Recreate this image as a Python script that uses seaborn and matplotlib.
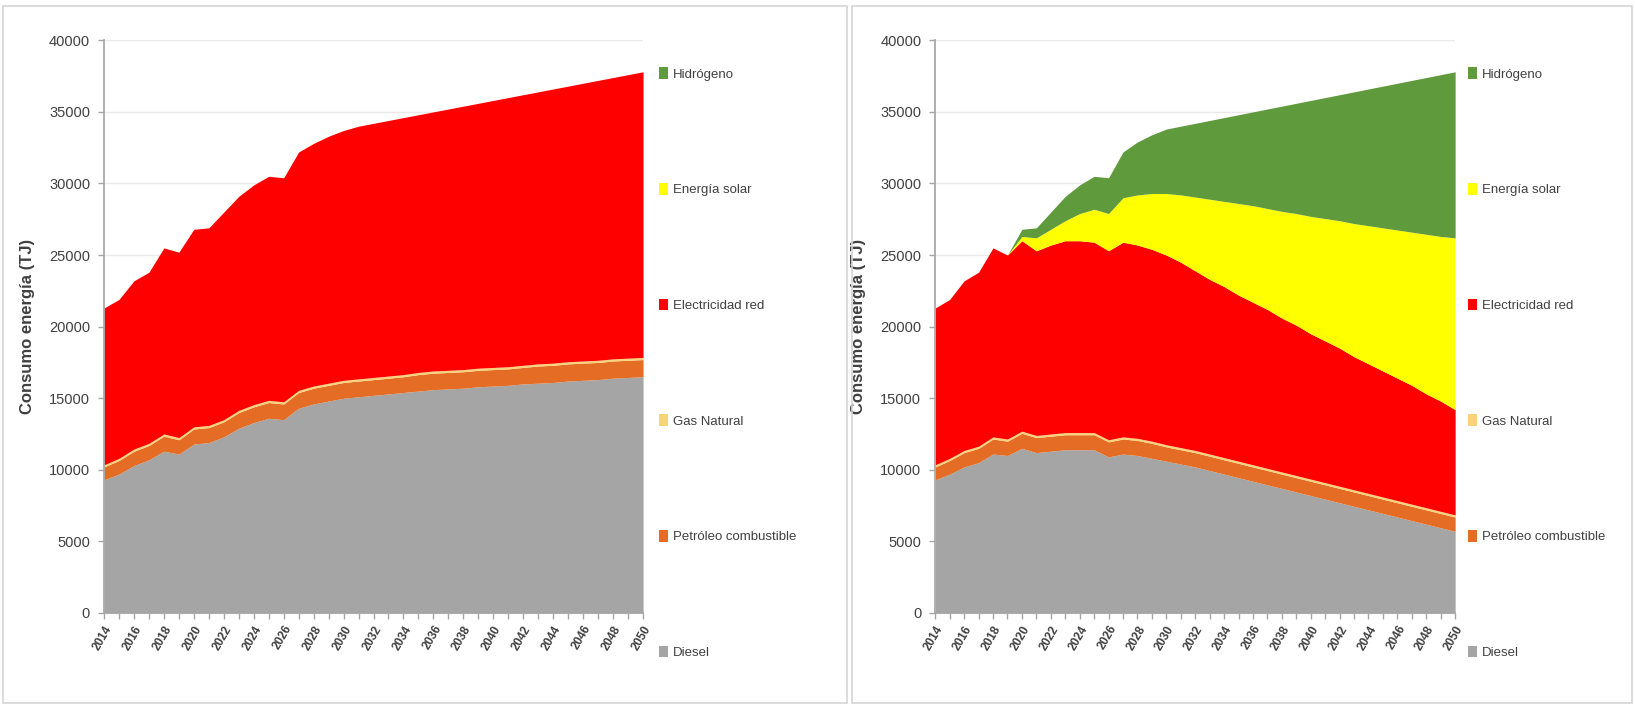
import matplotlib
matplotlib.use('Agg')
import matplotlib.pyplot as plt
import seaborn as sns
from matplotlib.patches import Patch, Rectangle

# Data (TJ)
years = list(range(2014, 2051))
tick_years = years[::2]

series_names = ['Diesel', 'Petróleo combustible', 'Gas Natural',
                'Electricidad red', 'Energía solar', 'Hidrógeno']
series_colors = ['#A5A5A5', '#E46C24', '#F9D37A', '#FF0000', '#FFFF00', '#5F9A3D']

# Left chart: reference scenario
diesel_a = [9300, 9700, 10300, 10700, 11300, 11100, 11800, 11900, 12300, 12900,
            13300, 13600, 13500, 14300, 14600, 14800, 15000, 15100, 15200, 15300,
            15400, 15500, 15600, 15650, 15700, 15800, 15850, 15900, 16000, 16050,
            16100, 16200, 16250, 16300, 16400, 16450, 16500]
petroleo_a = [900, 950, 1000, 1000, 1050, 1000, 1050, 1050, 1050, 1100,
              1100, 1100, 1100, 1100, 1100, 1100, 1100, 1100, 1100, 1100,
              1100, 1150, 1150, 1150, 1150, 1150, 1150, 1150, 1150, 1200,
              1200, 1200, 1200, 1200, 1200, 1200, 1200]
gas_a = [150] * 37
electricidad_a = [10950, 11100, 11750, 11950, 13000, 12950, 13800, 13800, 14500, 14950,
                  15350, 15650, 15650, 16650, 16950, 17250, 17450, 17650, 17750, 17850,
                  17950, 18000, 18100, 18250, 18400, 18500, 18650, 18800, 18900, 19000,
                  19150, 19250, 19400, 19550, 19650, 19800, 19950]
solar_a = [0] * 37
hidrogeno_a = [0] * 37

# Right chart: transition scenario
diesel_b = [9300, 9700, 10200, 10500, 11100, 11000, 11500, 11200, 11300, 11400,
            11400, 11400, 10900, 11100, 11000, 10800, 10600, 10400, 10200, 9950,
            9700, 9450, 9200, 8950, 8700, 8450, 8200, 7950, 7700, 7450,
            7200, 6950, 6700, 6450, 6200, 5950, 5700]
petroleo_b = [900, 950, 1000, 1000, 1050, 1000, 1050, 1050, 1050, 1050,
              1050, 1050, 1050, 1050, 1050, 1050, 1000, 1000, 1000, 1000,
              1000, 1000, 1000, 1000, 1000, 1000, 1000, 1000, 1000, 1000,
              1000, 1000, 1000, 1000, 1000, 1000, 1000]
gas_b = [150] * 37
electricidad_b = [10950, 11100, 11850, 12150, 13200, 12850, 13300, 12900, 13200, 13400,
                  13400, 13300, 13200, 13600, 13500, 13400, 13250, 12950, 12550, 12200,
                  11950, 11600, 11350, 11100, 10750, 10500, 10150, 9900, 9650, 9300,
                  9050, 8800, 8550, 8300, 7950, 7700, 7350]
solar_b = [0, 0, 0, 0, 0, 0, 300, 900, 1100, 1400,
           1900, 2300, 2600, 3100, 3500, 3900, 4300, 4700, 5150, 5600,
           5950, 6400, 6750, 7050, 7450, 7800, 8200, 8550, 8900, 9300,
           9650, 10000, 10350, 10700, 11150, 11500, 12000]
hidrogeno_b = [0, 0, 0, 0, 0, 0, 500, 700, 1200, 1700,
               2000, 2300, 2500, 3200, 3700, 4100, 4500, 4800, 5150, 5500,
               5850, 6200, 6550, 6950, 7350, 7700, 8100, 8450, 8800, 9200,
               9550, 9900, 10250, 10600, 10950, 11300, 11600]

sns.set_theme(style='white')
plt.rcParams['font.family'] = ['Liberation Sans', 'DejaVu Sans']

fig = plt.figure(figsize=(16.35, 7.07), dpi=100)

# panel frames like two pasted screenshots
fig.add_artist(Rectangle((0.002, 0.006), 0.516, 0.985, transform=fig.transFigure,
                         fill=False, edgecolor='#D6D6D6', linewidth=1.2))
fig.add_artist(Rectangle((0.521, 0.006), 0.477, 0.985, transform=fig.transFigure,
                         fill=False, edgecolor='#D6D6D6', linewidth=1.2))

ax1 = fig.add_axes([0.0636, 0.133, 0.3297, 0.810])
ax2 = fig.add_axes([0.572, 0.133, 0.318, 0.810])


def draw_panel(ax, layers, legend_x):
    ax.stackplot(years, *layers, colors=series_colors, linewidth=0)
    ax.set_xlim(2014, 2050)
    ax.set_ylim(0, 40000)
    ax.set_yticks(range(0, 40001, 5000))
    ax.set_yticklabels([str(v) for v in range(0, 40001, 5000)], fontsize=10.5, color='#404040')
    ax.set_xticks(tick_years)
    ax.set_xticks(years, minor=True)
    ax.set_xticklabels([str(y) for y in tick_years], rotation=60, ha='right',
                       rotation_mode='anchor', fontsize=8.5, fontweight='bold', color='#404040')
    ax.tick_params(axis='both', which='both', direction='out', length=4, width=1,
                   color='#A6A6A6', left=True, bottom=True)
    ax.tick_params(axis='y', pad=6)
    ax.yaxis.grid(True, color='#EAEAEA', linewidth=1)
    ax.set_axisbelow(True)
    sns.despine(ax=ax, top=True, right=True)
    ax.spines['left'].set_color('#A6A6A6')
    ax.spines['bottom'].set_color('#A6A6A6')
    ax.set_ylabel('Consumo energía (TJ)', fontsize=12, fontweight='bold', color='#404040', labelpad=10)

    handles = [Patch(facecolor=c, edgecolor='none', label=n)
               for n, c in zip(series_names[::-1], series_colors[::-1])]
    fig.legend(handles=handles, loc='upper left', bbox_to_anchor=(legend_x, 0.905),
               frameon=False, labelspacing=7.75, fontsize=9.5, handlelength=0.7,
               handleheight=1.0, handletextpad=0.35, borderpad=0, borderaxespad=0,
               labelcolor='#404040')


draw_panel(ax1, [diesel_a, petroleo_a, gas_a, electricidad_a, solar_a, hidrogeno_a], 0.403)
draw_panel(ax2, [diesel_b, petroleo_b, gas_b, electricidad_b, solar_b, hidrogeno_b], 0.898)

fig.savefig('out.png', dpi=100)
